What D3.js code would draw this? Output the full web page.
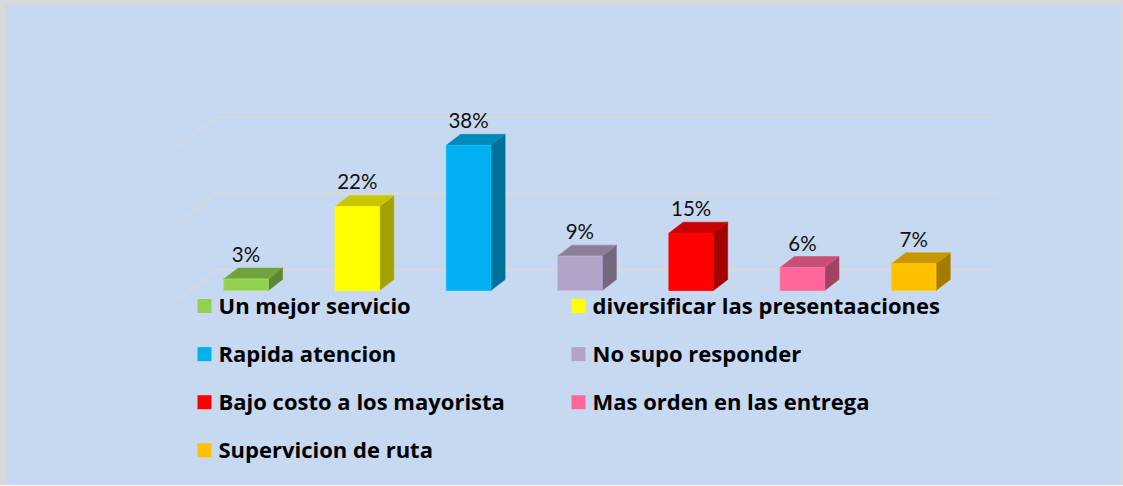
<!DOCTYPE html>
<html>
<head>
<meta charset="utf-8">
<script src="https://cdn.jsdelivr.net/npm/d3@7"></script>
<style>
  html, body { margin: 0; padding: 0; background: #ffffff; }
  svg { display: block; }
</style>
</head>
<body>
<div id="chart"></div>
<script>
// ==== DATA ====
const CATEGORIES = [
  "Un mejor servicio",
  "diversificar las presentaaciones",
  "Rapida atencion",
  "No supo responder",
  "Bajo costo a los mayorista",
  "Mas orden en las entrega",
  "Supervicion de ruta"
];
const VALUES = [3, 22, 38, 9, 15, 6, 7];
const COLORS = ["#92d050", "#ffff00", "#00b0f0", "#b3a2c7", "#ff0000", "#ff6699", "#ffc000"];
const GRID_TICKS = [0, 20, 40];

// ==== SIZE ====
const width = 1123;
const height = 486;

// 3D depth: full floor depth vector, bar sits in the middle of it
const DEPTH = { dx: 39, dy: -30 };
const Z0 = 0.317, Z1 = 0.683;

// ==== SCALES ====
const x = d3.scaleBand().domain(CATEGORIES).range([178, 957]).paddingInner(0.6).paddingOuter(0.3);
const y = d3.scaleLinear().domain([0, 40]).range([300, 147.2]);
const color = d3.scaleOrdinal().domain(CATEGORIES).range(COLORS);

const proj = (px, py, z) => [px + z * DEPTH.dx, py + z * DEPTH.dy];

// ==== ROOT SVG ====
const svg = d3.select("#chart")
  .append("svg")
  .attr("width", width)
  .attr("height", height);

// chart frame
svg.append("rect")
  .attr("x", 0).attr("y", 0)
  .attr("width", width).attr("height", height - 1)
  .attr("fill", "#d9d9d9");
svg.append("rect")
  .attr("x", 5).attr("y", 4)
  .attr("width", width - 7).attr("height", height - 5)
  .attr("fill", "#c6d9f0");

// ==== GRIDLINES (back wall + side floor diagonal) ====
const gGrid = svg.append("g").attr("class", "grid");
const [x0, x1] = x.range();
GRID_TICKS.forEach(t => {
  const a = proj(x0, y(t), 0), b = proj(x0, y(t), 1), c = proj(x1, y(t), 1);
  gGrid.append("path")
    .attr("d", d3.line()([a, b, c]))
    .attr("fill", "none")
    .attr("stroke", "#d9d9d9")
    .attr("stroke-width", 1.6);
});

// ==== BARS ====
const gBars = svg.append("g").attr("class", "bars");
const shade = (c, k) => d3.rgb(c).darker(k).formatHex();

CATEGORIES.forEach((cat, i) => {
  const v = VALUES[i];
  const l = x(cat), r = x(cat) + x.bandwidth();
  const top = y(v), bot = y(0);
  const c = color(cat);
  const g = gBars.append("g");

  const front = [proj(l, bot, Z0), proj(r, bot, Z0), proj(r, top, Z0), proj(l, top, Z0)];
  const topFace = [proj(l, top, Z0), proj(r, top, Z0), proj(r, top, Z1), proj(l, top, Z1)];
  const side = [proj(r, bot, Z0), proj(r, bot, Z1), proj(r, top, Z1), proj(r, top, Z0)];

  g.append("path").attr("d", d3.line()(side) + "Z")
    .attr("fill", shade(c, 1.25)).attr("stroke", shade(c, 1.1)).attr("stroke-width", 0.6);
  g.append("path").attr("d", d3.line()(topFace) + "Z")
    .attr("fill", shade(c, 0.7)).attr("stroke", shade(c, 0.55)).attr("stroke-width", 0.6);
  g.append("path").attr("d", d3.line()(front) + "Z")
    .attr("fill", c).attr("stroke", d3.rgb(c).brighter(0.3).formatHex()).attr("stroke-width", 0.8);

  // value label
  const [lx] = proj((l + r) / 2, top, Z0);
  const [, ly] = proj(l, top, Z1);
  svg.append("text")
    .attr("x", lx)
    .attr("y", ly - 6)
    .attr("text-anchor", "middle")
    .attr("font-family", "Lato, 'Open Sans', sans-serif")
    .attr("font-size", 20.5)
    .attr("fill", "#111")
    .text(v + "%");
});

// ==== LEGEND ====
const LEG_COLS = [197.5, 571.5];
const LEG_ROW0 = 299, LEG_STEP = 48.1;
const legend = svg.append("g").attr("class", "legend");
const legendRow = legend.selectAll("g.row")
  .data(CATEGORIES)
  .enter()
  .append("g")
  .attr("class", "row")
  .attr("transform", (d, i) => `translate(${LEG_COLS[i % 2]}, ${LEG_ROW0 + Math.floor(i / 2) * LEG_STEP})`);

legendRow.append("rect")
  .attr("width", 14)
  .attr("height", 14)
  .attr("fill", d => color(d));

legendRow.append("text")
  .attr("x", 21)
  .attr("y", 15)
  .attr("font-family", "'Open Sans', Lato, sans-serif")
  .attr("font-weight", 700)
  .attr("font-size", 22)
  .attr("fill", "#000")
  .text(d => d);
</script>
</body>
</html>
